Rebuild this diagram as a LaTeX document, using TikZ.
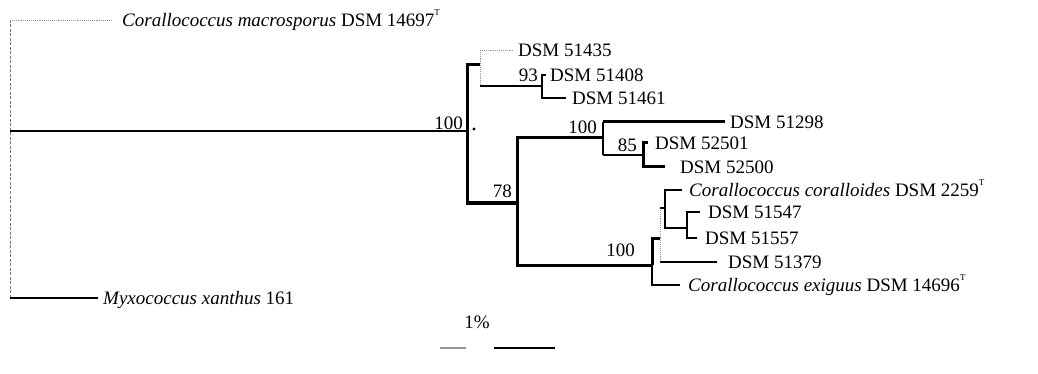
\documentclass[tikz,border=0pt]{standalone}
\usepackage{fontspec}
\setmainfont{Liberation Serif}
\usepackage{tikz}
\usetikzlibrary{positioning}
\newcommand\taxfont{\fontsize{19}{22}\selectfont}
\newcommand\typestrain{\raisebox{1.25ex}{\fontsize{9}{9}\selectfont T}}
\definecolor{fadegray}{RGB}{150,150,150}
\tikzset{
  branch/.style={black,line width=1.2pt},
  stem/.style={black,line width=2.2pt},
  heavy/.style={black,line width=3pt},
  faint/.style={fadegray,line width=0.9pt,densely dotted},
  dashv/.style={fadegray!80!black,line width=0.9pt,dash pattern=on 3pt off 1.5pt},
  taxon/.style={anchor=west,inner sep=0pt,text height=12.5pt,text depth=0pt,font=\taxfont},
  boot/.style={inner sep=0pt,font=\taxfont},
}

\begin{document}
\begin{tikzpicture}[x=1pt,y=-1pt]
  \path[use as bounding box] (0,0) rectangle (1038,374);

  % internal nodes
  \coordinate (r) at (10,131);
  \coordinate (a) at (467,131);
  \coordinate (b) at (480,65);
  \coordinate (c) at (542,86);
  \coordinate (d) at (517,203);
  \coordinate (e) at (603,138);
  \coordinate (f) at (643,155);
  \coordinate (g) at (652,265);
  \coordinate (h) at (660,238);
  \coordinate (i) at (665,208);
  \coordinate (j) at (687,228);

  % branch tips
  \coordinate (tmac) at (112,20);
  \coordinate (t51435) at (513,50);
  \coordinate (t51408) at (546,75);
  \coordinate (t51461) at (566,98);
  \coordinate (t51298) at (725,122);
  \coordinate (t52501) at (648,143);
  \coordinate (t52500) at (665,167);
  \coordinate (tcor) at (682,190);
  \coordinate (t51547) at (700,212);
  \coordinate (t51557) at (697,238);
  \coordinate (t51379) at (717,262);
  \coordinate (texi) at (680,285);
  \coordinate (tmyx) at (98,298);

  \node[taxon,right=10pt of tmac] (mac)
    {\textit{Corallococcus macrosporus} DSM 14697\typestrain};
  \node[taxon,right=5pt of t51435] (s51435) {DSM 51435};
  \node[taxon,right=4pt of t51408] (s51408) {DSM 51408};
  \node[taxon,right=6pt of t51461] (s51461) {DSM 51461};
  \node[taxon,right=5pt of t51298] (s51298) {DSM 51298};
  \node[taxon,right=7pt of t52501] (s52501) {DSM 52501};
  \node[taxon,right=15pt of t52500] (s52500) {DSM 52500};
  \node[taxon,right=7pt of tcor] (cor)
    {\textit{Corallococcus coralloides} DSM 2259\typestrain};
  \node[taxon,right=8pt of t51547] (s51547) {DSM 51547};
  \node[taxon,right=8pt of t51557] (s51557) {DSM 51557};
  \node[taxon,right=11pt of t51379] (s51379) {DSM 51379};
  \node[taxon,right=8pt of texi] (exi)
    {\textit{Corallococcus exiguus} DSM 14696\typestrain};
  \node[taxon,right=5pt of tmyx] (myx) {\textit{Myxococcus xanthus} 161};

  % root
  \draw[dashv] (r |- tmac) -- (r |- tmyx);
  \draw[faint] (r |- tmac) -- (tmac);
  \draw[branch] (r |- tmyx) -- (tmyx);
  \draw[branch] (r) -- (a);
  \node[fill,circle,inner sep=1.1pt] (dot) at (474,129) {};

  \draw[heavy] (a) |- (b);
  \draw[heavy] (a) |- (d);

  \draw[faint] (b |- t51435) -- (b |- c);
  \draw[faint] (b |- t51435) -- (t51435);
  \draw[branch] (b |- c) -- (c);
  \draw[stem] (c) |- (t51408);
  \draw[stem] (c) |- (t51461);

  \draw[heavy] (d) |- (e);
  \draw[heavy] (d) |- (g);
  \draw[branch] (e |- t51298) -- (e |- f);
  \draw[heavy] (e |- t51298) -- (t51298);
  \draw[branch] (e |- f) -- (f);
  \draw[heavy] (f) |- (t52501);
  \draw[heavy] (f) |- (t52500);

  \draw[heavy] (g) |- (h);
  \draw[stem] (g) |- (texi);
  \draw[faint] (h |- i) -- (h |- t51379);
  \draw[branch] (h |- t51379) -- (t51379);
  \draw[branch] (h |- i) -- (i);
  \draw[stem] (i) |- (tcor);
  \draw[stem] (i) |- (j);
  \draw[stem] (j) |- (t51547);
  \draw[stem] (j) |- (t51557);

  % bootstrap values
  \node[boot,above left=1pt and 4pt of a] (ba) {100};
  \node[boot,above left=4pt and 4pt of c] (bc) {93};
  \node[boot,above left=5pt and 5pt of d] (bd) {78};
  \node[boot,above left=4pt and 6pt of e] (be) {100};
  \node[boot,above left=3pt and 6pt of f] (bf) {85};
  \node[boot,above left=8pt and 17pt of g] (bg) {100};

  % scale bar
  \node[boot] (pct) at (477,322) {1\%};
  \coordinate (sb1) at (440,348);
  \coordinate (sb2) at (466,348);
  \coordinate (sb3) at (494,348);
  \coordinate (sb4) at (555,348);
  \draw[fadegray,line width=1.2pt] (sb1) -- (sb2);
  \draw[black,line width=1.8pt] (sb3) -- (sb4);
\end{tikzpicture}
\end{document}
